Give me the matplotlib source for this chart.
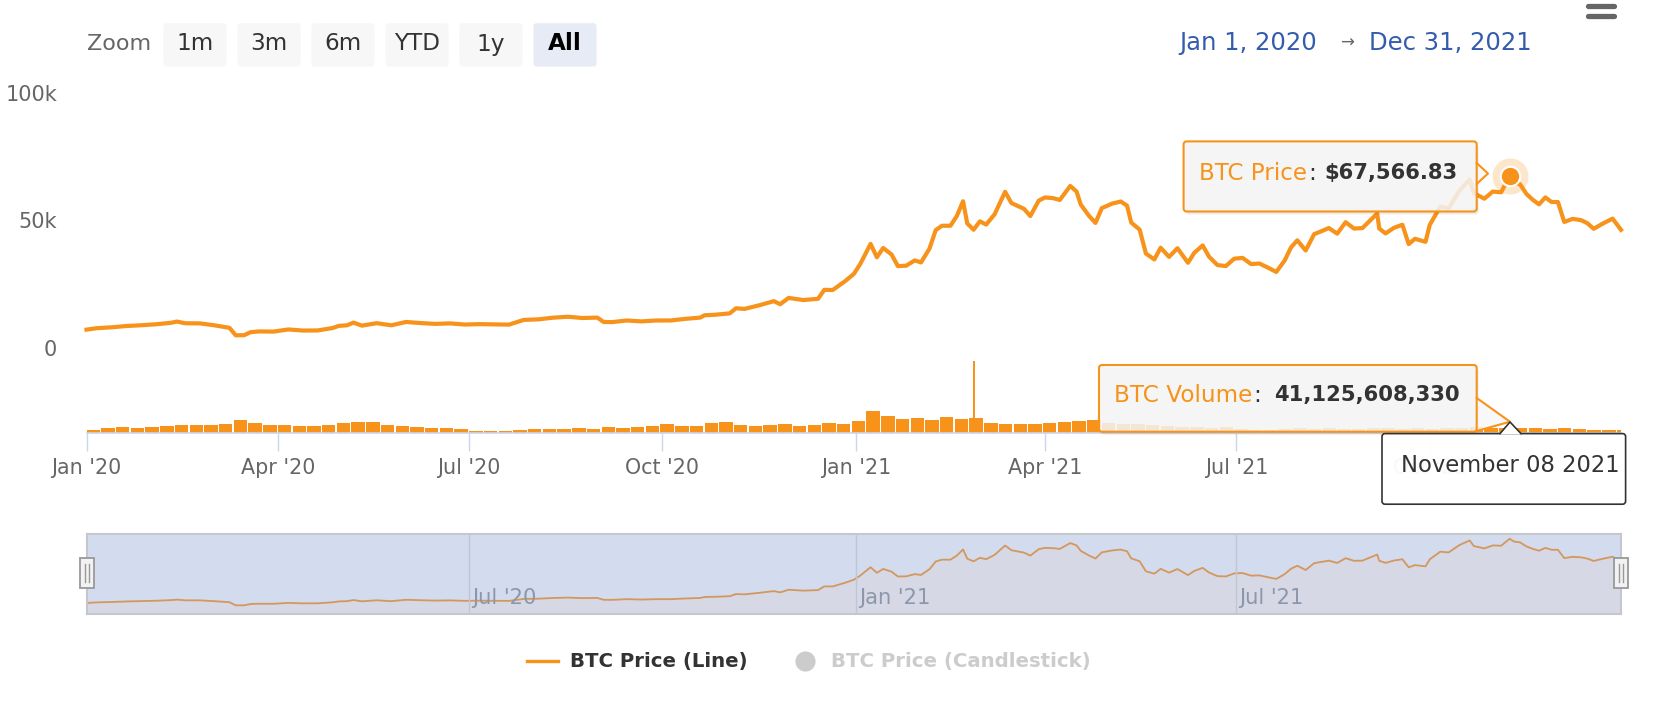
import numpy as np
import pandas as pd
import matplotlib
matplotlib.use("Agg")
import matplotlib.pyplot as plt
from matplotlib.patches import FancyBboxPatch, Polygon, Rectangle
import matplotlib.transforms as mtransforms

W, H = 1654, 704
FONT = 'DejaVu Sans'
ORANGE = '#f7931a'
plt.rcParams['font.family'] = [FONT]

# BTC price (USD)
price_dates = [
    '2020-01-01', '2020-01-06', '2020-01-13', '2020-01-20', '2020-01-27', '2020-02-03', '2020-02-10',
    '2020-02-13', '2020-02-17', '2020-02-24', '2020-03-02', '2020-03-09', '2020-03-12', '2020-03-16',
    '2020-03-19', '2020-03-23', '2020-03-30', '2020-04-06', '2020-04-13', '2020-04-20', '2020-04-27',
    '2020-04-30', '2020-05-04', '2020-05-07', '2020-05-11', '2020-05-18', '2020-05-25', '2020-06-01',
    '2020-06-08', '2020-06-15', '2020-06-22', '2020-06-29', '2020-07-06', '2020-07-13', '2020-07-20',
    '2020-07-27', '2020-08-03', '2020-08-10', '2020-08-17', '2020-08-24', '2020-08-31', '2020-09-03',
    '2020-09-07', '2020-09-14', '2020-09-21', '2020-09-28', '2020-10-05', '2020-10-12', '2020-10-19',
    '2020-10-21', '2020-10-26', '2020-11-02', '2020-11-05', '2020-11-09', '2020-11-16', '2020-11-23',
    '2020-11-26', '2020-11-30', '2020-12-07', '2020-12-14', '2020-12-17', '2020-12-21', '2020-12-27',
    '2020-12-31',
    '2021-01-03', '2021-01-08', '2021-01-11', '2021-01-14', '2021-01-18', '2021-01-21', '2021-01-25',
    '2021-01-29', '2021-02-01', '2021-02-05', '2021-02-08', '2021-02-11', '2021-02-15', '2021-02-18',
    '2021-02-21', '2021-02-23', '2021-02-26', '2021-03-01', '2021-03-04', '2021-03-08', '2021-03-13',
    '2021-03-16', '2021-03-22', '2021-03-25', '2021-03-29', '2021-04-01', '2021-04-05', '2021-04-08',
    '2021-04-13', '2021-04-16', '2021-04-18', '2021-04-22', '2021-04-25', '2021-04-28', '2021-05-03',
    '2021-05-07', '2021-05-10', '2021-05-12', '2021-05-16', '2021-05-19', '2021-05-23', '2021-05-26',
    '2021-05-30', '2021-06-03', '2021-06-08', '2021-06-11', '2021-06-15', '2021-06-18', '2021-06-22',
    '2021-06-26', '2021-06-30', '2021-07-04', '2021-07-08', '2021-07-12', '2021-07-16', '2021-07-20',
    '2021-07-24', '2021-07-27', '2021-07-30', '2021-08-03', '2021-08-07', '2021-08-10', '2021-08-14',
    '2021-08-18', '2021-08-22', '2021-08-26', '2021-08-30', '2021-09-06', '2021-09-07', '2021-09-10',
    '2021-09-14', '2021-09-18', '2021-09-21', '2021-09-24', '2021-09-29', '2021-10-01', '2021-10-06',
    '2021-10-10', '2021-10-15', '2021-10-20', '2021-10-22', '2021-10-27', '2021-10-31', '2021-11-04',
    '2021-11-08', '2021-11-10', '2021-11-13', '2021-11-16', '2021-11-19', '2021-11-22', '2021-11-25',
    '2021-11-28', '2021-12-01', '2021-12-04', '2021-12-08', '2021-12-12', '2021-12-15', '2021-12-18',
    '2021-12-22', '2021-12-27', '2021-12-31',
]
price_values = [
    7200, 7770, 8110, 8620, 8910, 9290, 9860,
    10350, 9690, 9650, 8870, 7910, 4970, 5010,
    6190, 6490, 6430, 7270, 6840, 6880, 7810,
    8660, 8900, 9950, 8760, 9720, 8900, 10200,
    9770, 9450, 9640, 9190, 9350, 9250, 9160,
    11000, 11230, 11880, 12250, 11750, 11920, 10200,
    10130, 10790, 10420, 10780, 10790, 11430, 11920,
    12820, 13030, 13560, 15570, 15310, 16720, 18360,
    17150, 19630, 18800, 19270, 22800, 22720, 26270,
    29000,
    32780, 40800, 35560, 39190, 36630, 32070, 32260,
    34320, 33540, 38900, 46200, 47900, 47900, 51680,
    57500, 48800, 46340, 49630, 48370, 52390, 61200,
    56800, 54530, 51700, 57750, 59000, 58700, 58000,
    63500, 61300, 56200, 51700, 49000, 54800, 56600,
    57400, 55800, 49150, 46400, 37000, 34700, 39300,
    35700, 39100, 33400, 37300, 40200, 35800, 32500,
    32100, 35000, 35300, 32900, 33100, 31500, 29800,
    34300, 39400, 42200, 38200, 44600, 45600, 47000,
    44800, 49300, 46800, 47000, 52700, 46800, 44900,
    47100, 48300, 40700, 42800, 41600, 48200, 55400,
    54700, 61500, 66000, 60700, 58500, 61300, 61000,
    67566.83, 64995, 64150, 60370, 58100, 56300, 59000,
    57200, 57200, 49400, 50600, 50100, 48900, 46700,
    48600, 50700, 46300,
]

# weekly BTC volume (billion USD), one bar per week from 2020-01-01
volume_start = '2020-01-01'
volume_values = [
    14, 24, 27, 20, 28, 33, 38, 35, 36, 40, 62, 48, 35,
    38, 33, 32, 36, 48, 52, 50, 38, 30, 27, 24, 20, 16,
    9, 7, 6, 10, 15, 18, 17, 20, 19, 25, 22, 28, 32, 40,
    30, 34, 45, 52, 38, 30, 36, 42, 34, 36, 46, 42, 58,
    105, 80, 66, 72, 60, 75, 64, 70, 45, 42, 40, 44, 46,
    50, 58, 60, 45, 40, 42, 38, 30, 25, 28, 22, 26, 18,
    14, 12, 15, 20, 18, 20, 16, 17, 22, 24, 18, 20, 19,
    22, 24, 26, 22, 20, 22, 20, 18, 20, 16, 14, 13, 12,
]
spike_date = '2021-02-26'
spike_volume = 350.97

x_ticks = ['2020-01-01', '2020-04-01', '2020-07-01', '2020-10-01',
           '2021-01-01', '2021-04-01', '2021-07-01', '2021-10-01']
x_tick_labels = ["Jan '20", "Apr '20", "Jul '20", "Oct '20",
                 "Jan '21", "Apr '21", "Jul '21", "Oct '21"]
nav_ticks = ['2020-07-01', '2021-01-01', '2021-07-01']
nav_tick_labels = ["Jul '20", "Jan '21", "Jul '21"]
y_ticks = [0, 50000, 100000]
y_tick_labels = ['0', '50k', '100k']
zoom_buttons = ['1m', '3m', '6m', 'YTD', '1y', 'All']
hover_date = '2021-11-08'
hover_price = 67566.83
hover_volume = 41125608330

pdates = pd.to_datetime(price_dates)
vdates = pd.date_range(volume_start, periods=len(volume_values), freq='7D')
x_min = pd.Timestamp('2020-01-01')
x_max = pd.Timestamp('2021-12-31')

fig = plt.figure(figsize=(W / 100, H / 100), dpi=100)
renderer = fig.canvas.get_renderer()


def size_for(s, width, weight='normal'):
    # font size that gives the text the width seen in the reference
    t = fig.text(0, 0, s, fontsize=10, fontweight=weight)
    w = t.get_window_extent(renderer=renderer).width
    t.remove()
    return 10 * width / w


def px_axes(x0, y0, x1, y1, **kw):
    return fig.add_axes([x0 / W, 1 - y1 / H, (x1 - x0) / W, (y1 - y0) / H], **kw)


PX0, PX1 = 86.5, 1621

# price pane
ax_p = px_axes(PX0, 92.8, PX1, 348)
ax_p.plot(pdates, price_values, color=ORANGE, lw=3.0, solid_joinstyle='round', clip_on=False)
ax_p.plot([pd.Timestamp(hover_date)], [hover_price], 'o', ms=26, color=ORANGE, alpha=0.22, mec='none', clip_on=False)
ax_p.plot([pd.Timestamp(hover_date)], [hover_price], 'o', ms=14, mfc=ORANGE, mec='white', mew=1.5, clip_on=False, zorder=5)
ax_p.set_xlim(x_min, x_max)
ax_p.set_ylim(0, 100000)
ax_p.set_yticks(y_ticks, y_tick_labels)
ax_p.set_xticks([])
ax_p.tick_params(axis='y', length=0, pad=21, labelsize=size_for('100k', 52), labelcolor='#666666')
for s in ax_p.spines.values():
    s.set_visible(False)
ax_p.patch.set_alpha(0)

# volume pane
ax_v = px_axes(PX0, 352, PX1, 432.5)
ax_v.bar(vdates, volume_values, width=6.4, align='edge', color=ORANGE, lw=0)
ax_v.bar([pd.Timestamp(spike_date)], [spike_volume], width=0.9, color=ORANGE, lw=0)
ax_v.set_xlim(x_min, x_max)
ax_v.set_ylim(0, 394)
ax_v.set_yticks([])
ax_v.set_xticks(pd.to_datetime(x_ticks), x_tick_labels)
ax_v.tick_params(axis='x', length=13, width=1, color='#ccd6eb', pad=5,
                 labelsize=size_for("Jan '20", 70), labelcolor='#666666')
for k, s in ax_v.spines.items():
    s.set_visible(k == 'bottom')
ax_v.spines['bottom'].set_color('#ccd6eb')
ax_v.spines['bottom'].set_linewidth(1.2)
ax_v.patch.set_alpha(0)

# navigator
ax_n = px_axes(PX0, 533.5, PX1, 613.5)
ax_n.set_facecolor('#d3dbee')
ax_n.fill_between(pdates, price_values, -2700, color='#d6d8e5', lw=0)
ax_n.plot(pdates, price_values, color='#d4975c', lw=1.3)
ax_n.set_xlim(x_min, x_max)
ax_n.set_ylim(-2700, 72500)
ax_n.set_xticks([])
ax_n.set_yticks([])
for d in pd.to_datetime(nav_ticks):
    ax_n.axvline(d, color='#bfc6d6', lw=1)
trans = mtransforms.blended_transform_factory(ax_n.transData, ax_n.transAxes)
nav_size = size_for("Jul '20", 64)
for d, lab in zip(pd.to_datetime(nav_ticks), nav_tick_labels):
    ax_n.text(d + pd.Timedelta(days=1.5), 0.2, lab, transform=trans, fontsize=nav_size,
              color='#8d97ab', ha='left', va='center')
for s in ax_n.spines.values():
    s.set_color('#c4c7cd')
    s.set_linewidth(1.5)

# overlay for UI parts
ov = fig.add_axes([0, 0, 1, 1], zorder=10)
ov.set_xlim(0, W)
ov.set_ylim(H, 0)
ov.axis('off')

# navigator handles
for hx in (PX0, PX1):
    ov.add_patch(Rectangle((hx - 7, 558), 14, 30, fc='#f2f2f2', ec='#999999', lw=1.3))
    ov.plot([hx - 2, hx - 2], [564, 582], color='#999999', lw=1)
    ov.plot([hx + 2, hx + 2], [564, 582], color='#999999', lw=1)

# zoom buttons
ov.text(87, 44, 'Zoom', fontsize=size_for('Zoom', 64), color='#666666', ha='left', va='center')
btn_size = size_for('YTD', 46)
for i, lab in enumerate(zoom_buttons):
    bx = 163.5 + 74 * i
    sel = lab == 'All'
    ov.add_patch(FancyBboxPatch((bx, 23.2), 63, 43.3, boxstyle='round,pad=0,rounding_size=3',
                                fc='#e6ebf5' if sel else '#f7f7f7', ec='none'))
    ov.text(bx + 31.5, 44, lab, fontsize=btn_size, color='#000000' if sel else '#333333',
            fontweight='bold' if sel else 'normal', ha='center', va='center')

# date range
rng_size = size_for('Jan 1, 2020', 137)
ov.text(1179, 43, 'Jan 1, 2020', fontsize=rng_size, color='#335cad', ha='left', va='center')
ov.text(1347, 43, '\u2192', fontsize=12, color='#666666', ha='center', va='center')
ov.text(1532, 43, 'Dec 31, 2021', fontsize=rng_size, color='#335cad', ha='right', va='center')

# menu icon
for yy in (5.5, 15.5):
    ov.plot([1588, 1614], [yy, yy], color='#666666', lw=3.8, solid_capstyle='round')


def tooltip(x0, y0, x1, y1, pointer):
    ov.add_patch(FancyBboxPatch((x0 + 2, y0 + 3), x1 - x0, y1 - y0, boxstyle='round,pad=0,rounding_size=3',
                                fc=(0, 0, 0, 0.07), ec='none'))
    ov.add_patch(Polygon(pointer, closed=False, fc=(0.97, 0.97, 0.97, 0.85), ec='none'))
    ov.add_patch(FancyBboxPatch((x0, y0), x1 - x0, y1 - y0, boxstyle='round,pad=0,rounding_size=3',
                                fc=(0.97, 0.97, 0.97, 0.85), ec=ORANGE, lw=1.5))
    px, py = zip(*pointer)
    ov.plot(px, py, color=ORANGE, lw=1.5)


def label_value(x_left, x_right, y, name, value, name_w, value_w):
    fs = size_for(name, name_w)
    t = ov.text(x_left, y, name, fontsize=fs, color=ORANGE, ha='left', va='center')
    w = t.get_window_extent(renderer=renderer).width
    ov.text(x_left + w + 1, y, ':', fontsize=fs, color='#333333', ha='left', va='center')
    ov.text(x_right, y, value, fontsize=size_for(value, value_w, 'bold'), color='#333333',
            fontweight='bold', ha='right', va='center')


tooltip(1183.6, 141.4, 1476.7, 211.5, [(1476.7, 163), (1488, 173.5), (1476.7, 184)])
label_value(1199, 1458, 173, 'BTC Price', '${:,.2f}'.format(hover_price), 108, 134)

tooltip(1099, 365, 1476.7, 431.7, [(1476.7, 398), (1510, 421.7), (1476.7, 431)])
label_value(1114, 1460, 395, 'BTC Volume', '{:,}'.format(hover_volume), 138, 186)

# crosshair date label
ov.add_patch(FancyBboxPatch((1382, 433.6), 243.6, 70.6, boxstyle='round,pad=0,rounding_size=3',
                            fc=(1, 1, 1, 0.96), ec='#333333', lw=1.2))
ov.add_patch(Polygon([(1500, 434.4), (1510, 422), (1521, 434.4)], fc='white', ec='none'))
ov.plot([1500, 1510, 1521], [433.6, 422, 433.6], color='#333333', lw=1.2)
date_txt = pd.Timestamp(hover_date).strftime('%B %d %Y')
ov.text(1510.5, 466, date_txt, fontsize=size_for(date_txt, 218),
        color='#333333', ha='center', va='center')

# legend
ov.plot([527, 558], [661, 661], color=ORANGE, lw=2.4)
leg_size = size_for('BTC Price (Line)', 178, 'bold')
ov.text(570, 661, 'BTC Price (Line)', fontsize=leg_size, fontweight='bold', color='#333333', ha='left', va='center')
ov.plot([805], [661], 'o', ms=14.5, color='#cccccc', mec='none')
ov.text(831, 661, 'BTC Price (Candlestick)', fontsize=leg_size, fontweight='bold', color='#cccccc', ha='left', va='center')

fig.savefig('out.png', dpi=100)
